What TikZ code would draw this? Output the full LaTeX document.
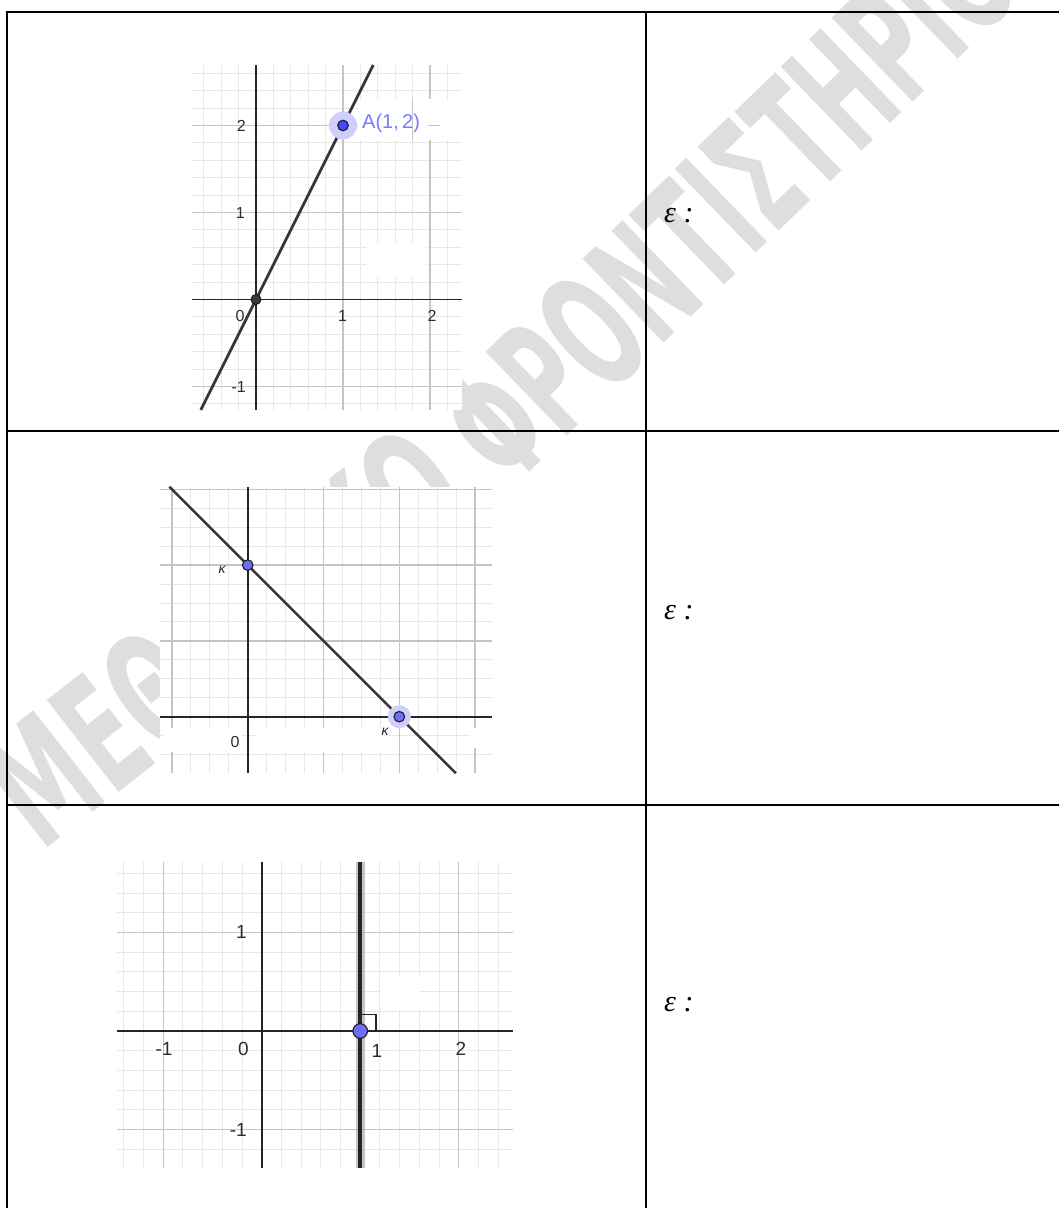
\documentclass[tikz,border=0pt]{standalone}
\usepackage{fontspec}
\usepackage{graphicx}
\setmainfont{Liberation Serif}
\newfontfamily\ggfont{Liberation Sans}
\newfontfamily\wmfont{DejaVu Sans}
\definecolor{majgrid}{RGB}{196,196,196}
\definecolor{mingrid}{RGB}{231,231,231}
\definecolor{axisc}{RGB}{37,37,37}
\definecolor{linec}{RGB}{55,55,55}
\definecolor{ptblue}{RGB}{110,110,250}
\definecolor{ptblueA}{RGB}{70,70,255}
\definecolor{ptedge}{RGB}{30,30,30}
\definecolor{halo}{RGB}{206,206,255}
\definecolor{lblblue}{RGB}{120,120,255}
\definecolor{lblgray}{RGB}{45,45,45}
\definecolor{wmgray}{RGB}{222,222,222}
\begin{document}
\begin{tikzpicture}[x=1pt,y=-1pt,
  minor/.style={draw=mingrid,line width=1pt},
  major/.style={draw=majgrid,line width=1.4pt},
  axis/.style={draw=axisc,line width=1.8pt},
  gline/.style={draw=linec,line width=2.8pt},
  tbl/.style={draw=black,line width=2pt},
  gpt/.style={circle,fill=ptblue,draw=ptedge,line width=1.1pt,inner sep=0pt,minimum size=#1},
  halopt/.style={circle,fill=halo,inner sep=0pt,minimum size=#1},
  lbl/.style={font=\ggfont\fontsize{16}{18}\selectfont,text=lblgray,inner sep=0pt},
  lblb/.style={font=\ggfont\fontsize{19}{21}\selectfont,text=lblgray,inner sep=0pt},
  kap/.style={font=\ggfont\itshape\fontsize{14}{16}\selectfont,text=lblgray,inner sep=0pt},
  eps/.style={font=\fontsize{30}{32}\selectfont\itshape,text=black,inner sep=0pt},
  wm/.style={font=\wmfont\bfseries\fontsize{160}{160}\selectfont,text=wmgray,inner sep=0pt},
  patch/.style={fill=white,draw=none}]
\useasboundingbox (0,0) rectangle (1059,1208);
\fill[white] (0,0) rectangle (1059,1208);

% watermark
\node[wm,rotate=38] (wm1) at (224,636) {\scalebox{0.5625}[1]{ΜΕΘΟΔΙΚΟ}};
\node[wm,rotate=44] (wm2) at (728,200) {\scalebox{0.53}[1]{ΦΡΟΝΤΙΣΤΗΡΙΟ}};

% ---------------- graph 1 ----------------
\fill[white] (191.7,65) rectangle (461.7,410);
\foreach \i in {-3,...,11} {\draw[minor] ({256+\i*17.4},65) -- ({256+\i*17.4},410);}
\foreach \j in {-6,...,13} {\draw[minor] (191.7,{299.5-\j*17.4}) -- (461.7,{299.5-\j*17.4});}
\foreach \i in {5,10} {\draw[major] ({256+\i*17.4},65) -- ({256+\i*17.4},410);}
\foreach \j in {-5,5,10} {\draw[major] (191.7,{299.5-\j*17.4}) -- (461.7,{299.5-\j*17.4});}
\fill[patch] (358,99) rectangle (462,140);
\fill[patch] (367,243) rectangle (427,277);
\draw[major,line width=1pt] (412.6,99) -- (412.6,140);
\draw[major] (428,125.5) -- (440,125.5);
\draw[axis] (256,65) -- (256,410);
\draw[axis] (191.7,299.5) -- (461.7,299.5);
\coordinate (l1a) at (200.8,410);
\coordinate (l1b) at (373.3,65);
\draw[gline] (l1a) -- (l1b);
\node[halopt=28pt] (Ah) at (343,125.5) {};
\node[gpt=10.6pt,fill=ptblueA] (A) at (343,125.5) {};
\node[circle,fill=linec,draw=ptedge,line width=1pt,inner sep=0pt,minimum size=10pt] (O1) at (256,299.5) {};
\node[font=\ggfont\fontsize{20}{22}\selectfont,text=lblblue,inner sep=0pt,anchor=base west] (Alab) at (362,128) {A(1,\,2)};
\node[lbl,anchor=east] (g1y2) at (246,126) {2};
\node[lbl,anchor=east] (g1y1) at (245,213) {1};
\node[lbl,anchor=east] (g1ym1) at (246,387) {-1};
\node[lbl] (g1x0) at (240,316) {0};
\node[lbl] (g1x1) at (342.5,316) {1};
\node[lbl] (g1x2) at (432,316) {2};

% ---------------- graph 2 ----------------
\fill[white] (160,486.7) rectangle (491.7,773.3);
\foreach \i in {-4,...,12} {\draw[minor] ({247.7+\i*18.95},486.7) -- ({247.7+\i*18.95},773.3);}
\foreach \j in {-2,...,12} {\draw[minor] (160,{716.7-\j*18.95}) -- (491.7,{716.7-\j*18.95});}
\foreach \i in {-4,4,8,12} {\draw[major] ({247.7+\i*18.95},486.7) -- ({247.7+\i*18.95},773.3);}
\foreach \j in {4,8,12} {\draw[major] (160,{716.7-\j*18.95}) -- (491.7,{716.7-\j*18.95});}
\fill[patch] (163,728) rectangle (242,752);
\fill[patch] (256,728) rectangle (384,752);
\fill[patch] (470,728) rectangle (491.7,748);
\draw[axis] (247.7,486.7) -- (247.7,773.3);
\draw[axis] (160,716.7) -- (491.7,716.7);
\coordinate (l2a) at (169.3,486.7);
\coordinate (l2b) at (455.9,773.3);
\draw[gline,line width=2.4pt] (l2a) -- (l2b);
\node[halopt=23pt] (K2h) at (399.3,716.7) {};
\node[gpt=10.6pt] (K1) at (247.7,565.1) {};
\node[gpt=10.6pt] (K2) at (399.3,716.7) {};
\node[kap] (k1lab) at (222,570) {κ};
\node[kap] (k2lab) at (385,732) {κ};
\node[lbl] (g2x0) at (235,742) {0};

% ---------------- graph 3 ----------------
\fill[white] (116.7,861.7) rectangle (513.3,1168);
\foreach \i in {-7,...,12} {\draw[minor] ({261.7+\i*19.7},861.7) -- ({261.7+\i*19.7},1168);}
\foreach \j in {-6,...,8} {\draw[minor] (116.7,{1031-\j*19.7}) -- (513.3,{1031-\j*19.7});}
\foreach \i in {-5,5,10} {\draw[major] ({261.7+\i*19.7},861.7) -- ({261.7+\i*19.7},1168);}
\foreach \j in {-5,5} {\draw[major] (116.7,{1031-\j*19.7}) -- (513.3,{1031-\j*19.7});}
\fill[patch] (380,977) rectangle (420,1010);
\draw[axis] (261.7,861.7) -- (261.7,1168);
\draw[axis] (116.7,1031) -- (513.3,1031);
\coordinate (l3a) at (360.2,861.7);
\coordinate (l3b) at (360.2,1168);
\draw[draw=gray,opacity=0.45,line width=9pt] (l3a) -- (l3b);
\draw[draw=axisc,line width=4pt] (l3a) -- (l3b);
\draw[draw=axisc,line width=1.3pt] (361.5,1014.3) -- (376,1014.3) -- (376,1031);
\node[gpt=14.6pt] (P3) at (360.2,1031) {};
\node[lblb,anchor=east] (g3y1) at (247,932) {1};
\node[lblb,anchor=east] (g3ym1) at (247,1130) {-1};
\node[lblb] (g3xm1) at (164,1049) {-1};
\node[lblb] (g3x0) at (243.3,1049) {0};
\node[lblb] (g3x1) at (377,1051) {1};
\node[lblb] (g3x2) at (461,1049) {2};

% ---------------- epsilon labels ----------------
\node[eps,anchor=base west] (e1) at (664,222) {ε :};
\node[eps,anchor=base west] (e2) at (664,619) {ε :};
\node[eps,anchor=base west] (e3) at (664,1011) {ε :};

% ---------------- table ----------------
\draw[tbl] (6.3,11.7) -- (1059,11.7);
\draw[tbl] (7.3,10.7) -- (7.3,1208);
\draw[tbl] (645.7,10.7) -- (645.7,1208);
\draw[tbl] (6.3,431) -- (1059,431);
\draw[tbl] (6.3,805) -- (1059,805);
\end{tikzpicture}
\end{document}
